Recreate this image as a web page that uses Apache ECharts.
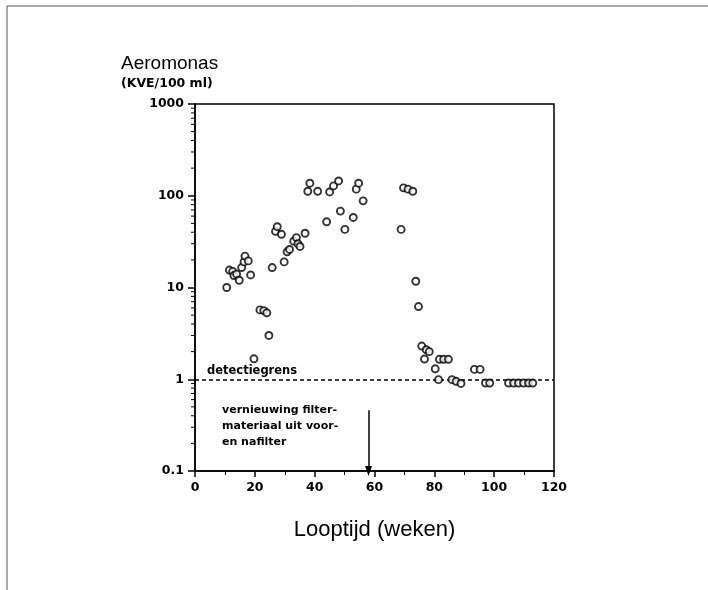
<!DOCTYPE html>
<html><head><meta charset="utf-8">
<script src="https://cdn.jsdelivr.net/npm/echarts@6/dist/echarts.min.js"></script>
<style>html,body{margin:0;background:#fff}#c{width:708px;height:590px}</style>
</head><body><div id="c"></div>
<script>
// Weeks of running time (x) and Aeromonas counts KVE/100 ml (y)
const weeks = [
  10.6, 11.5, 12.6, 13.0, 13.9, 14.8, 15.6, 16.4, 16.7, 17.8, 18.6,
  19.7, 21.7, 23.0, 24.0, 24.7,
  25.8, 29.8, 26.9, 27.5, 28.9, 30.8, 31.6, 33.0, 33.9, 34.4, 35.1, 36.8,
  37.7, 38.4, 41.0,
  44.0, 45.0, 46.3, 48.0, 48.6, 50.1, 52.9, 53.9, 54.7, 56.2,
  68.9, 69.7, 71.2, 72.8, 73.8, 74.7, 75.8, 77.3, 78.3, 76.7, 80.3, 81.4,
  81.7, 83.1, 84.7, 85.9, 87.3, 88.9, 93.4, 95.3, 97.1, 98.5,
  104.8, 106.5, 108.1, 109.8, 111.5, 112.9
];
const kve = [
  10, 15.5, 15, 13.5, 14, 12, 16.5, 19, 22, 19.5, 13.7,
  1.67, 5.7, 5.6, 5.3, 3.0,
  16.5, 19, 41, 46, 38, 24.5, 26, 32, 35, 30, 28, 39,
  112, 137, 112,
  52, 110, 128, 145, 68, 43, 58, 118, 137, 88,
  43, 122, 118, 112, 11.7, 6.2, 2.3, 2.1, 2.0, 1.66, 1.3, 0.99,
  1.65, 1.65, 1.65, 0.99, 0.95, 0.9, 1.28, 1.28, 0.91, 0.91,
  0.91, 0.91, 0.91, 0.91, 0.91, 0.91
];
const xTickLabels = [0, 20, 40, 60, 80, 100, 120];
const yTickLabels = [0.1, 1, 10, 100, 1000];
const yMinorTicks = [0.2,0.3,0.4,0.5,0.6,0.7,0.8,0.9, 2,3,4,5,6,7,8,9, 20,30,40,50,60,70,80,90, 200,300,400,500,600,700,800,900];
const detectionLimit = 1;
const renewalWeek = 58;
const renewalArrowTop = 0.46;

const FONT = '"Liberation Sans", Arial, sans-serif';
const WIDE = '"DejaVu Sans", Verdana, sans-serif';
const chart = echarts.init(document.getElementById('c'));
chart.setOption({
  animation: false,
  backgroundColor: '#fff',
  title: {
    text: 'Aeromonas', subtext: '(KVE/100 ml)',
    left: 116, top: 49, itemGap: 4,
    textStyle: {fontFamily: FONT, fontSize: 19, fontWeight: 'normal', color: '#000'},
    subtextStyle: {fontFamily: WIDE, fontSize: 12.5, fontWeight: 'bold', color: '#000'}
  },
  grid: {left: 195, right: 154, top: 104, bottom: 119, show: true, borderColor: '#000', borderWidth: 1.5},
  xAxis: {
    type: 'value', min: xTickLabels[0], max: xTickLabels[xTickLabels.length-1], interval: 20,
    name: 'Looptijd (weken)', nameLocation: 'middle', nameGap: 48,
    nameTextStyle: {fontFamily: FONT, fontSize: 22, color: '#000'},
    axisLine: {lineStyle: {color: '#000', width: 1.5}},
    axisTick: {show: true, length: 6, lineStyle: {color: '#000', width: 1.5}},
    minorTick: {show: true, splitNumber: 2, length: 4, lineStyle: {color: '#000', width: 1}},
    splitLine: {show: false},
    axisLabel: {fontFamily: WIDE, fontSize: 12.5, fontWeight: 'bold', color: '#000', margin: 10}
  },
  yAxis: {
    type: 'log', logBase: 10, min: yTickLabels[0], max: yTickLabels[yTickLabels.length-1],
    axisLine: {show: true, lineStyle: {color: '#000', width: 1.5}},
    axisTick: {show: true, length: 7, lineStyle: {color: '#000', width: 1.5}},
    splitLine: {show: false},
    axisLabel: {fontFamily: WIDE, fontSize: 12.5, fontWeight: 'bold', color: '#000', margin: 11,
      formatter: v => String(v)}
  },
  series: [
    {
      type: 'scatter', name: 'Aeromonas',
      data: weeks.map((w, i) => [w, kve[i]]),
      symbol: 'circle', symbolSize: 7,
      itemStyle: {color: '#fff', borderColor: '#000', borderWidth: 1.9},
      z: 5,
      markLine: {
        silent: true, symbol: 'none', animation: false,
        data: [
          {yAxis: detectionLimit, lineStyle: {type: [4, 3], color: '#000', width: 1.5},
           label: {show: true, position: 'insideStartTop', formatter: 'detectiegrens', distance: [12, 2],
             fontFamily: WIDE, fontSize: 11.5, fontWeight: 'bold', color: '#000'}},
          [
            {coord: [renewalWeek, renewalArrowTop], symbol: 'none'},
            {coord: [renewalWeek, yTickLabels[0]], symbol: 'triangle', symbolSize: [7, 10], symbolRotate: 180}
          ]
        ],
        lineStyle: {type: 'solid', color: '#000', width: 1.5}
      }
    },
    {
      type: 'custom', name: 'minorTicks', silent: true, clip: false,
      data: yMinorTicks.map(v => [xTickLabels[0], v]),
      renderItem: (params, api) => {
        const p = api.coord([api.value(0), api.value(1)]);
        return {type: 'line', shape: {x1: p[0] - 4, y1: p[1], x2: p[0], y2: p[1]},
          style: {stroke: '#000', lineWidth: 1}};
      }
    }
  ],
  graphic: [
    {type: 'line', shape: {x1: 7, y1: 6, x2: 708, y2: 6}, style: {stroke: '#555', lineWidth: 1}},
    {type: 'line', shape: {x1: 7, y1: 6, x2: 7, y2: 590}, style: {stroke: '#555', lineWidth: 1}},
    {type: 'text', left: 222, top: 402,
      style: {text: 'vernieuwing filter-\nmateriaal uit voor-\nen nafilter', font: 'bold 11px ' + WIDE,
        fill: '#000', lineHeight: 16}}
  ]
});
</script></body></html>
